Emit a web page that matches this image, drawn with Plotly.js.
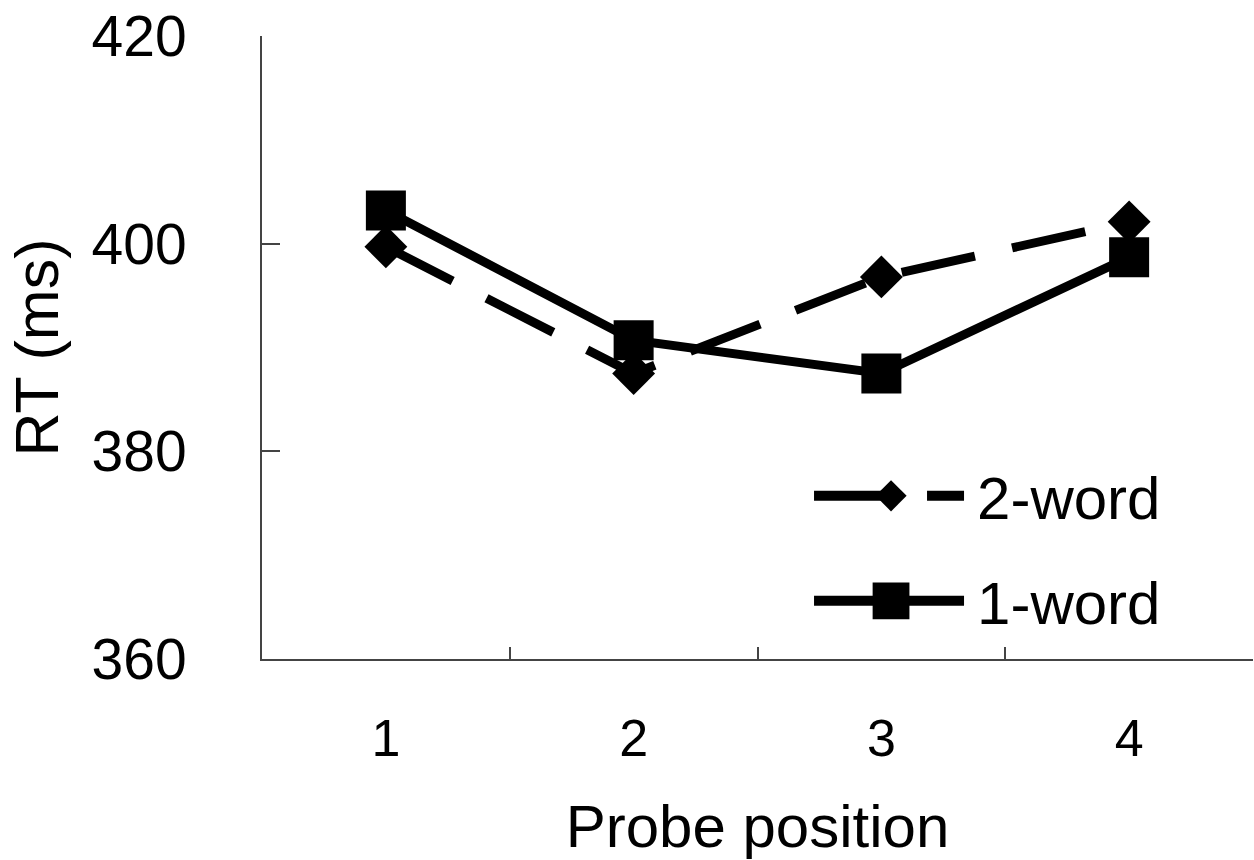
<!DOCTYPE html>
<html>
<head>
<meta charset="utf-8">
<script src="https://cdn.plot.ly/plotly-3.0.1.min.js"></script>
<style>html,body{margin:0;padding:0;background:#fff;}#chart{width:1254px;height:860px;}</style>
</head>
<body>
<div id="chart"></div>
<script>
const positions = ['1', '2', '3', '4'];
const twoWord = [399.7, 387.5, 396.8, 402.1];
const oneWord = [403.2, 390.7, 387.5, 398.7];
const seriesNames = ['2-word', '1-word'];
const yTicks = [360, 380, 400, 420];

const FONT = 'Liberation Sans, Arial, sans-serif';

const traces = [
  {
    x: positions, y: twoWord, name: seriesNames[0], type: 'scatter', mode: 'lines+markers',
    legendgroup: 'a',
    line: {color: '#000', width: 9, dash: '75px,38px'},
    marker: {symbol: 'diamond', size: 33, color: '#000'}
  },
  {
    x: positions, y: oneWord, name: seriesNames[1], type: 'scatter', mode: 'lines+markers',
    legendgroup: 'b',
    line: {color: '#000', width: 9},
    marker: {symbol: 'square', size: 40, color: '#000'}
  }
];

const layout = {
  width: 1254, height: 860,
  margin: {l: 262, r: 1, t: 36, b: 201, autoexpand: false},
  paper_bgcolor: '#fff', plot_bgcolor: '#fff',
  font: {family: FONT, color: '#000', size: 52},
  showlegend: true,
  legend: {
    x: 0.552, y: 0.335, xanchor: 'left', yanchor: 'top',
    bgcolor: 'rgba(0,0,0,0)', traceorder: 'grouped', tracegroupgap: 24,
    font: {family: FONT, size: 60, color: '#000'}
  },
  xaxis: {
    type: 'category', range: [-0.5, 3.5],
    showline: true, linecolor: '#444', linewidth: 2,
    ticks: 'inside', tickson: 'boundaries', ticklen: 12, tickwidth: 2, tickcolor: '#444',
    showgrid: false, zeroline: false,
    tickfont: {family: FONT, size: 52, color: '#000'},
    ticklabelstandoff: 33,
    title: {text: 'Probe position', font: {family: FONT, size: 60, color: '#000'}, standoff: 40},
    automargin: false
  },
  yaxis: {
    range: [360, 420], tickvals: yTicks, ticktext: yTicks.map(String),
    showline: true, linecolor: '#444', linewidth: 2,
    ticks: 'inside', ticklen: 18, tickwidth: 2, tickcolor: '#444',
    showgrid: false, zeroline: false,
    tickfont: {family: FONT, size: 57, color: '#000'},
    ticklabelstandoff: 62,
    title: {text: 'RT (ms)', font: {family: FONT, size: 61, color: '#000'}, standoff: 13},
    automargin: false
  }
};

Plotly.newPlot('chart', traces, layout, {displayModeBar: false, staticPlot: true}).then(function (gd) {
  // widen the legend samples to match the original figure's long legend keys
  gd.querySelectorAll('.legend [clip-path]').forEach(function (el) { el.removeAttribute('clip-path'); });
  gd.querySelectorAll('.legend').forEach(function (el) { el.style.overflow = 'visible'; });
  const items = gd.querySelectorAll('.legend .traces');
  const markerScale = [1.5, 2.3];
  items.forEach(function (item, i) {
    item.querySelectorAll('path.js-line').forEach(function (p) {
      p.setAttribute('d', 'M5,0h150');
      p.style.strokeWidth = '10px';
    });
    item.querySelectorAll('.legendpoints path.scatterpts').forEach(function (p) {
      p.setAttribute('transform', 'translate(82,0) scale(' + markerScale[i] + ')');
    });
    item.querySelectorAll('text.legendtext').forEach(function (t) {
      t.setAttribute('x', 168);
      t.querySelectorAll('tspan').forEach(function (s) { if (s.hasAttribute('x')) s.setAttribute('x', 168); });
    });
  });
});
</script>
</body>
</html>
